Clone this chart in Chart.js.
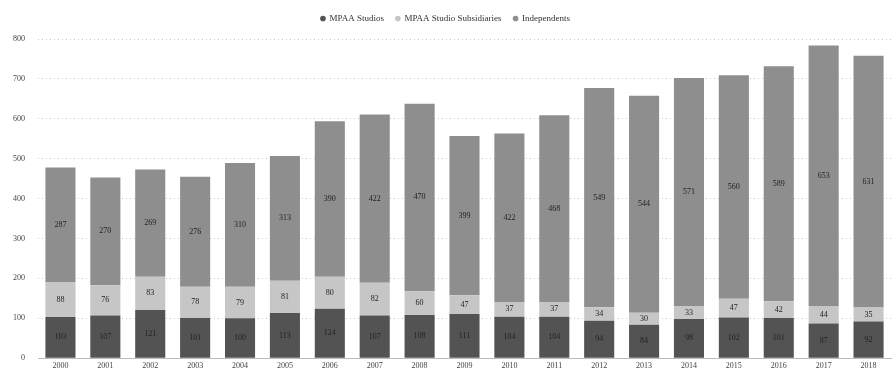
<!DOCTYPE html>
<html>
<head>
<meta charset="utf-8">
<script src="https://cdn.jsdelivr.net/npm/chart.js@4/dist/chart.umd.min.js"></script>
<style>
  html, body { margin: 0; padding: 0; background: #fff; }
  #wrap { width: 893px; height: 376px; position: relative; }
</style>
</head>
<body>
<div id="wrap"><canvas id="c"></canvas></div>
<script>
// Films released per year, split by distributor type
const years = ['2000','2001','2002','2003','2004','2005','2006','2007','2008','2009',
               '2010','2011','2012','2013','2014','2015','2016','2017','2018'];
const mpaaStudios      = [103, 107, 121, 101, 100, 113, 124, 107, 108, 111, 104, 104, 94, 84, 98, 102, 101, 87, 92];
const mpaaSubsidiaries = [88, 76, 83, 78, 79, 81, 80, 82, 60, 47, 37, 37, 34, 30, 33, 47, 42, 44, 35];
const independents     = [287, 270, 269, 276, 310, 313, 390, 422, 470, 399, 422, 468, 549, 544, 571, 560, 589, 653, 631];
const yTicks = [0, 100, 200, 300, 400, 500, 600, 700, 800];

const serif = '"Liberation Serif", "DejaVu Serif", serif';

// Writes each segment's value in the middle of its bar piece
const segmentLabels = {
  id: 'segmentLabels',
  afterDatasetsDraw(chart) {
    const ctx = chart.ctx;
    ctx.save();
    ctx.font = '8px ' + serif;
    ctx.fillStyle = '#222';
    ctx.textAlign = 'center';
    ctx.textBaseline = 'middle';
    chart.data.datasets.forEach((ds, i) => {
      const meta = chart.getDatasetMeta(i);
      meta.data.forEach((bar, j) => {
        const mid = (bar.y + bar.base) / 2;
        ctx.fillText(String(ds.data[j]), bar.x, mid);
      });
    });
    ctx.restore();
  }
};

// Leaves a little more room under the legend
const legendGap = {
  id: 'legendGap',
  beforeInit(chart) {
    const fit = chart.legend.fit;
    chart.legend.fit = function () {
      fit.call(this);
      this.height += 6;
    };
  }
};

new Chart(document.getElementById('c'), {
  type: 'bar',
  data: {
    labels: years,
    datasets: [
      { label: 'MPAA Studios', data: mpaaStudios, backgroundColor: '#535353' },
      { label: 'MPAA Studio Subsidiaries', data: mpaaSubsidiaries, backgroundColor: '#c6c6c6' },
      { label: 'Independents', data: independents, backgroundColor: '#8e8e8e' }
    ]
  },
  options: {
    responsive: true,
    maintainAspectRatio: false,
    animation: false,
    layout: { padding: { left: 0, right: 2, top: 2, bottom: 2 } },
    datasets: { bar: { categoryPercentage: 1.0, barPercentage: 0.67 } },
    plugins: {
      legend: {
        position: 'top',
        labels: {
          font: { family: serif, size: 9 },
          color: '#333',
          usePointStyle: true,
          pointStyle: 'circle',
          boxWidth: 4,
          boxHeight: 4,
          padding: 12
        }
      },
      tooltip: { enabled: false }
    },
    scales: {
      x: {
        stacked: true,
        grid: { display: false, drawTicks: false },
        border: { display: true, color: '#bbb', dash: [1, 3] },
        ticks: { font: { family: serif, size: 8 }, color: '#444', padding: 3, maxRotation: 0 }
      },
      y: {
        stacked: true,
        min: 0,
        max: 800,
        afterBuildTicks(axis) { axis.ticks = yTicks.map(v => ({ value: v })); },
        grid: { color: '#c8c8c8', lineWidth: 1, drawTicks: false },
        border: { display: false, dash: [1, 3] },
        ticks: { font: { family: serif, size: 8 }, color: '#444', padding: 13 }
      }
    }
  },
  plugins: [segmentLabels, legendGap]
});
</script>
</body>
</html>
